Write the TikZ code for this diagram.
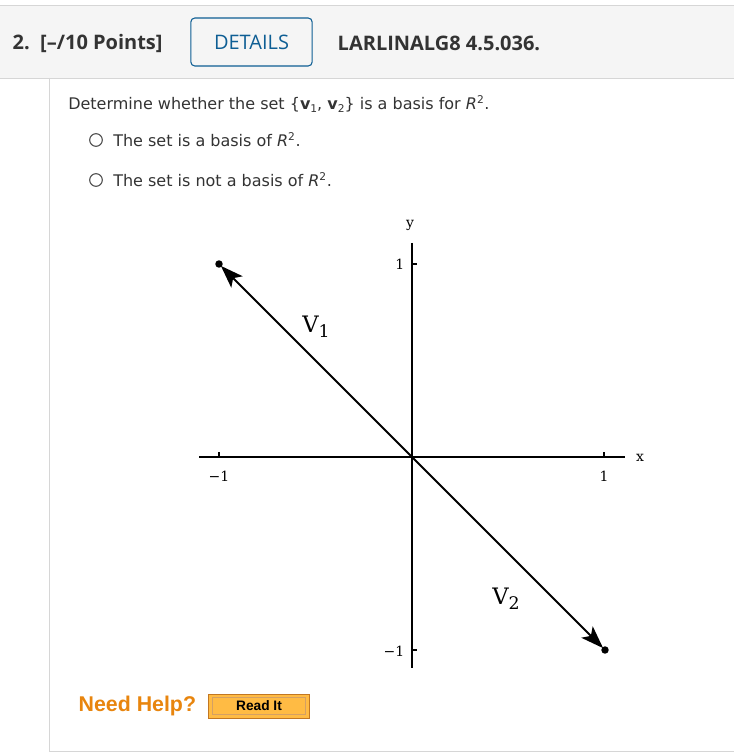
\documentclass[tikz,border=0pt]{standalone}
\usepackage{fontspec}
\setmainfont{DejaVu Sans}
\newfontfamily\headfont{Open Sans}
\newfontfamily\plotfont{DejaVu Serif}
\newfontfamily\helpfont{Liberation Sans}
\usetikzlibrary{arrows.meta}
\definecolor{bandgray}{HTML}{F5F5F5}
\definecolor{rulegray}{HTML}{D6D6D6}
\definecolor{headtext}{HTML}{333333}
\definecolor{detailblue}{HTML}{0E5E94}
\definecolor{helporange}{HTML}{E8850E}
\definecolor{btnfill}{HTML}{FFBB44}
\definecolor{btnedge}{HTML}{C27722}
\newcommand{\sub}[1]{\raisebox{-0.35ex}{\footnotesize #1}}
\newcommand{\vsub}[1]{\raisebox{-0.45ex}{\fontsize{13}{13}\selectfont #1}}

\begin{document}
\begin{tikzpicture}
[x=0.75pt,y=-0.75pt,
 head/.style={anchor=west,text=headtext,font=\headfont\bfseries\fontsize{15}{18}\selectfont},
 body/.style={anchor=west,text=headtext,font=\fontsize{12}{14}\selectfont,inner sep=0pt},
 radio/.style={circle,draw=black!70,thick,minimum size=9.5pt,inner sep=0pt},
 axis/.style={line width=0.9pt},
 vec/.style={-{Stealth[length=17pt,width=12pt,inset=4pt]},line width=1.5pt,shorten >=2pt},
 tick/.style={font=\plotfont\fontsize{10.5}{12}\selectfont},
 vlabel/.style={font=\plotfont\fontsize{17}{19}\selectfont}]
\useasboundingbox (0,0) rectangle (734,755);
% header band
\fill[bandgray] (0,5) rectangle (734,78);
\draw[rulegray] (0,5) -- (734,5);
\draw[rulegray] (0,78) -- (734,78);
\draw[rulegray] (49,78) -- (49,751) -- (734,751);
\node[head] (num) at (8,43) {2.\ \ [–/10 Points]};
\node[draw=detailblue,thick,rounded corners=3pt,minimum width=91pt,minimum height=36pt,
      text=detailblue,font=\headfont\fontsize{15}{18}\selectfont] (details) at (251.5,42) {DETAILS};
\node[head] (code) at (333,43) {LARLINALG8 4.5.036.};
% question
\node[body] (quest) at (68,104) {Determine whether the set \{\textbf{v}\sub{1}, \textbf{v}\sub{2}\} is a basis for \textit{R}\textsuperscript{2}.};
\node[radio] (r1) at (96,140) {};
\node[body] (opt1) at (113,140) {The set is a basis of \textit{R}\textsuperscript{2}.};
\node[radio] (r2) at (96,180) {};
\node[body] (opt2) at (113,180) {The set is not a basis of \textit{R}\textsuperscript{2}.};
% graph
\coordinate (O) at (412,457);
\coordinate (xl) at (199,457);
\coordinate (xr) at (625,457);
\coordinate (yt) at (412,243);
\coordinate (yb) at (412,668);
\draw[axis] (xl) -- (xr);
\draw[axis] (yt) -- (yb);
\draw[axis] (219,457) -- (219,452);
\draw[axis] (604,457) -- (604,452);
\draw[axis] (412,264) -- (417,264);
\draw[axis] (412,650) -- (417,650);
\node[tick] (xlab) at (640,458) {x};
\node[tick] (ylab) at (410,225) {y};
\node[tick] (xm) at (219,476) {−1};
\node[tick] (xp) at (604,476) {1};
\node[tick,anchor=east] (yp) at (409,264) {1};
\node[tick,anchor=east] (ym) at (409,651) {−1};
\coordinate (v1) at (219,264);
\coordinate (v2) at (605,650);
\draw[vec] (O) -- (v1);
\draw[vec] (O) -- (v2);
\fill (v1) circle (2.8pt);
\fill (v2) circle (2.8pt);
\node[vlabel] (l1) at (316,327) {V\vsub{1}};
\node[vlabel] (l2) at (506,599) {V\vsub{2}};
% help
\node[anchor=west,text=helporange,font=\helpfont\bfseries\fontsize{16}{18}\selectfont] (help) at (74,706) {Need Help?};
\node[draw=btnedge,fill=btnfill,minimum width=76pt,minimum height=18pt,inner sep=0pt] (readit) at (259,706) {};
\node[draw=btnedge!70,minimum width=70pt,minimum height=13pt,inner sep=0pt,
      font=\helpfont\bfseries\fontsize{10.3}{11}\selectfont] at (readit) {Read It};
\end{tikzpicture}
\end{document}
